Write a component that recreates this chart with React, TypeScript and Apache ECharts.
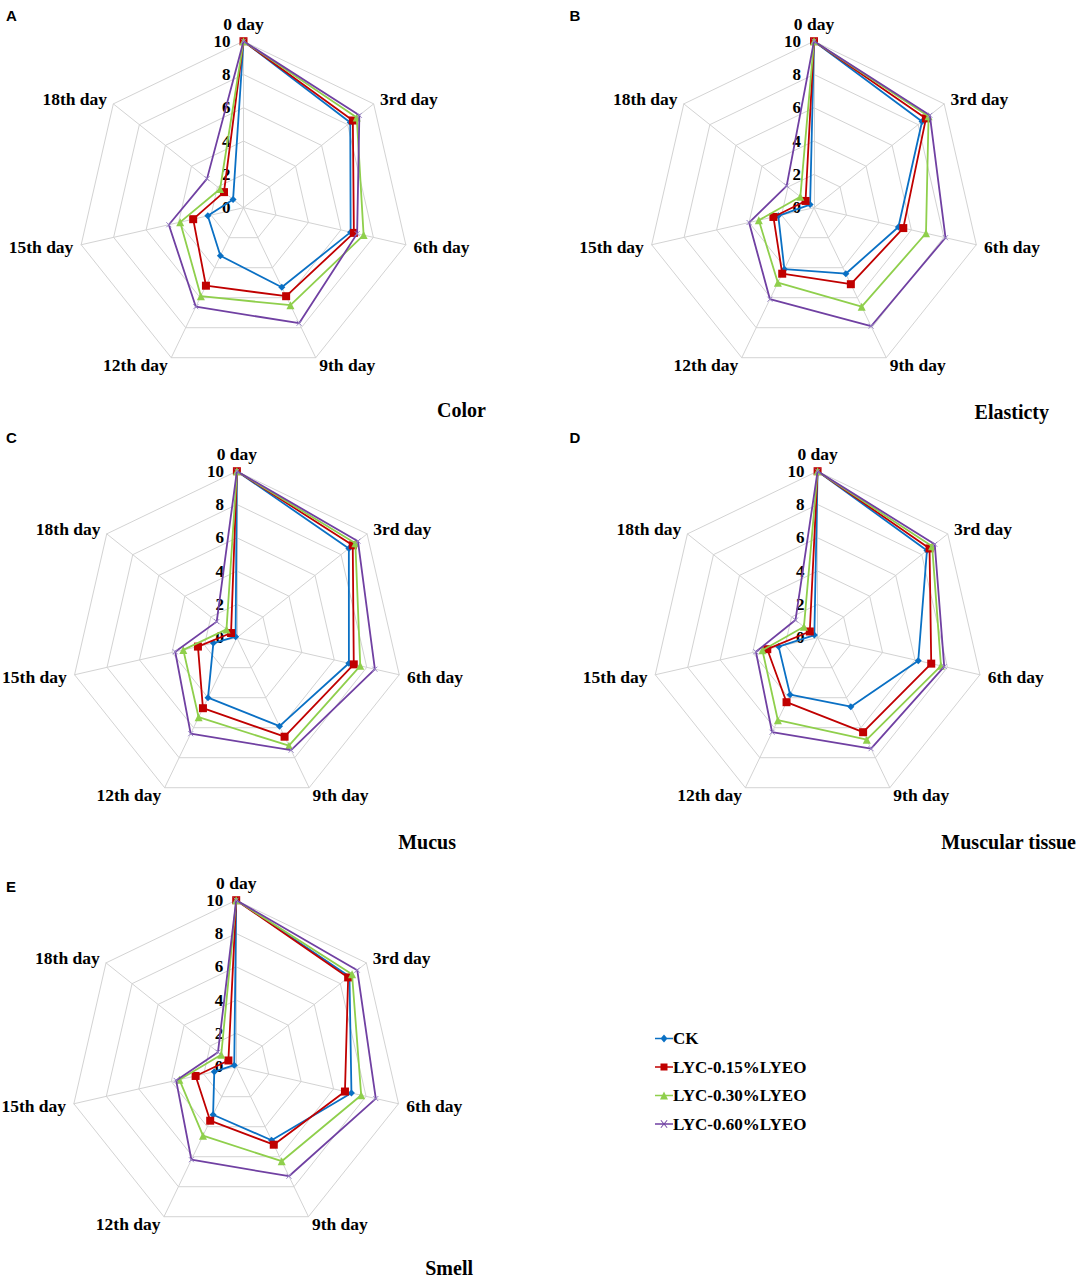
import React, { useEffect, useRef } from "react";
import * as echarts from "echarts";

// ---------- data ----------
const CATEGORIES = ["0 day", "3rd day", "6th day", "9th day", "12th day", "15th day", "18th day"];
const GROUPS = ["CK", "LYC-0.15%LYEO", "LYC-0.30%LYEO", "LYC-0.60%LYEO"];
const AXIS_MIN = 0;
const AXIS_MAX = 10;
const AXIS_SPLITS = 5;

const PANEL_LETTERS = ["A", "B", "C", "D", "E"];
const PANEL_TITLES = ["Color", "Elasticty", "Mucus", "Muscular tissue", "Smell"];

// values per panel, per group (order of CATEGORIES)
const COLOR_CK = [10, 8.2, 6.6, 5.3, 3.2, 2.2, 0.8];
const COLOR_015 = [10, 8.4, 6.8, 5.9, 5.2, 3.1, 1.5];
const COLOR_030 = [10, 8.7, 7.4, 6.5, 5.9, 3.9, 1.8];
const COLOR_060 = [10, 8.9, 7.0, 7.7, 6.6, 4.6, 2.8];

const ELAST_CK = [10, 8.3, 5.2, 4.4, 4.1, 2.2, 0.3];
const ELAST_015 = [10, 8.6, 5.5, 5.1, 4.4, 2.5, 0.65];
const ELAST_030 = [10, 8.8, 6.9, 6.6, 5.0, 3.4, 1.05];
const ELAST_060 = [10, 8.9, 8.1, 7.9, 6.1, 4.0, 2.1];

const MUCUS_CK = [10, 8.6, 6.9, 5.9, 4.0, 1.45, 0.1];
const MUCUS_015 = [10, 8.9, 7.2, 6.6, 4.7, 2.4, 0.45];
const MUCUS_030 = [10, 9.1, 7.6, 7.2, 5.3, 3.3, 0.8];
const MUCUS_060 = [10, 9.3, 8.5, 7.5, 6.4, 3.8, 1.55];

const MUSC_CK = [10, 8.4, 6.2, 4.6, 3.8, 2.4, 0.25];
const MUSC_015 = [10, 8.6, 7.0, 6.3, 4.3, 3.1, 0.6];
const MUSC_030 = [10, 8.8, 7.6, 6.8, 5.5, 3.4, 1.05];
const MUSC_060 = [10, 9.0, 7.8, 7.4, 6.3, 3.8, 1.7];

const SMELL_CK = [10, 8.7, 7.1, 4.9, 3.2, 1.35, 0.15];
const SMELL_015 = [10, 8.6, 6.7, 5.2, 3.6, 2.5, 0.6];
const SMELL_030 = [10, 8.9, 7.7, 6.3, 4.6, 3.5, 1.15];
const SMELL_060 = [10, 9.3, 8.6, 7.3, 6.2, 3.7, 1.4];

const PANEL_VALUES = [
  [COLOR_CK, COLOR_015, COLOR_030, COLOR_060],
  [ELAST_CK, ELAST_015, ELAST_030, ELAST_060],
  [MUCUS_CK, MUCUS_015, MUCUS_030, MUCUS_060],
  [MUSC_CK, MUSC_015, MUSC_030, MUSC_060],
  [SMELL_CK, SMELL_015, SMELL_030, SMELL_060],
];

// ---------- layout & style ----------
const W = 1084;
const H = 1281;
const RADIUS = 166.5;
const CENTERS = [
  [243.5, 207.7],
  [814, 207.7],
  [236.9, 637.7],
  [817.6, 637.7],
  [236.2, 1066.7],
];
const LETTER_POS = [
  [6, 15],
  [569.5, 15],
  [6, 437],
  [569.5, 437],
  [6, 886.7],
];
const TITLE_POS = [
  [486, 410],
  [1049, 412],
  [456, 841.5],
  [1076, 842],
  [473, 1268],
];

const SERIF = '"Liberation Serif", "Times New Roman", serif';
const SANS = '"Liberation Sans", Arial, sans-serif';

const COLORS = ["#0a70c4", "#c00000", "#8fcf4c", "#7040a2"];
const SYMBOLS = ["diamond", "rect", "triangle", "path://M0,0L10,10M10,0L0,10"];
const SYMBOL_SIZES = [7, 8, 8, 5];

const LEGEND_ICONS = [
  "path://M0,3.35H18V4.65H0Z M9,0L12.5,4L9,8L5.5,4Z",
  "path://M0,3.35H18V4.65H0Z M5.5,0.5H12.5V7.5H5.5Z",
  "path://M0,3.35H18V4.65H0Z M9,0L13,8H5Z",
  "path://M0,3.35H18V4.65H0Z M5.5,0.5L6.2,0L12.5,7.5L11.8,8Z M11.8,0L12.5,0.5L6.2,8L5.5,7.5Z",
];

// indicators placed counter-clockwise by ECharts; reorder so the days run clockwise
const order = [0, ...CATEGORIES.slice(1).map((_, i) => CATEGORIES.length - 1 - i)];

function buildOption() {
  const radar = CENTERS.map((c) => ({
    center: c,
    radius: RADIUS,
    startAngle: 90,
    shape: "polygon",
    splitNumber: AXIS_SPLITS,
    axisNameGap: 8,
    axisName: {
      color: "#000",
      fontSize: 17.5,
      fontWeight: "bold",
      fontFamily: SERIF,
    },
    indicator: order.map((idx, k) => ({
      name: CATEGORIES[idx],
      min: AXIS_MIN,
      max: AXIS_MAX,
      ...(k === 0 ? { axisLabel: { show: true } } : {}),
    })),
    axisLine: { show: true, lineStyle: { color: "#d3d3d3", width: 1 } },
    splitLine: { show: true, lineStyle: { color: "#d3d3d3", width: 1 } },
    splitArea: { show: false },
    axisTick: { show: false },
    axisLabel: {
      show: false,
      color: "#000",
      fontSize: 17,
      fontWeight: "bold",
      fontFamily: SERIF,
      margin: 13,
    },
  }));

  const series: any[] = [];
  PANEL_VALUES.forEach((panel, p) => {
    panel.forEach((vals, g) => {
      const isX = g === 3;
      series.push({
        type: "radar",
        name: GROUPS[g],
        radarIndex: p,
        symbol: SYMBOLS[g],
        symbolSize: SYMBOL_SIZES[g],
        z: 2 + g,
        data: [
          {
            name: GROUPS[g],
            value: order.map((idx) => vals[idx]),
            symbol: SYMBOLS[g],
            symbolSize: SYMBOL_SIZES[g],
            lineStyle: { color: COLORS[g], width: 1.8 },
            itemStyle: isX
              ? { color: "rgba(0,0,0,0)", borderColor: "#9884c6", borderWidth: 1 }
              : { color: COLORS[g], borderWidth: 0 },
          },
        ],
      });
    });
  });

  const graphic: any[] = [];
  PANEL_LETTERS.forEach((t, i) => {
    graphic.push({
      type: "text",
      x: LETTER_POS[i][0],
      y: LETTER_POS[i][1],
      style: {
        text: t,
        fill: "#000",
        font: `bold 15px ${SANS}`,
        align: "left",
        verticalAlign: "middle",
      },
    });
  });
  PANEL_TITLES.forEach((t, i) => {
    graphic.push({
      type: "text",
      x: TITLE_POS[i][0],
      y: TITLE_POS[i][1],
      style: {
        text: t,
        fill: "#000",
        font: `bold 20px ${SERIF}`,
        align: "right",
        verticalAlign: "middle",
      },
    });
  });

  return {
    animation: false,
    backgroundColor: "#fff",
    radar,
    series,
    legend: {
      orient: "vertical",
      left: 650,
      top: 1025,
      itemWidth: 18,
      itemHeight: 8,
      itemGap: 11.5,
      selectedMode: false,
      textStyle: {
        color: "#000",
        fontSize: 17,
        fontWeight: "bold",
        fontFamily: SERIF,
        padding: [0, 0, 0, -5],
      },
      data: GROUPS.map((g, i) => ({
        name: g,
        icon: LEGEND_ICONS[i],
        itemStyle: { color: COLORS[i], borderWidth: 0 },
      })),
    },
    graphic,
  };
}

export default function App() {
  const ref = useRef<HTMLDivElement>(null);
  useEffect(() => {
    if (!ref.current) return;
    const chart = echarts.init(ref.current, undefined, { renderer: "svg" });
    chart.setOption(buildOption() as any);
    return () => chart.dispose();
  }, []);
  return (
    <div
      ref={ref}
      style={{ position: "absolute", left: 0, top: 0, width: W, height: H, background: "#fff" }}
    />
  );
}
